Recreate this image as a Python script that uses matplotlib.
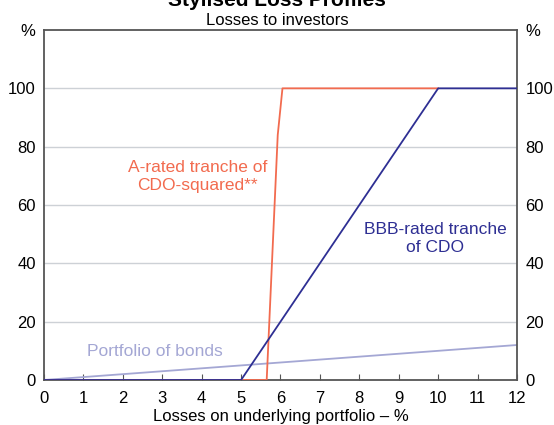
import matplotlib

matplotlib.use("Agg")

import matplotlib.pyplot as plt

plt.rcParams["font.family"] = ["Liberation Sans", "DejaVu Sans"]

# data (losses on underlying portfolio, %)
bonds_x = [0, 12]
bonds_y = [0, 12]

bbb_x = [0, 5, 10, 12]
bbb_y = [0, 0, 100, 100]

cdo2_x = [0, 5.65, 5.93, 6.05, 10]
cdo2_y = [0, 0, 84, 100, 100]

y_ticks = [0, 20, 40, 60, 80, 100, 120]
y_labels = ["0", "20", "40", "60", "80", "100", "%"]
x_ticks = list(range(0, 13))

RED = "#F26B4F"
NAVY = "#2E2F93"
LILAC = "#A4A7D4"
GRID = "#CDD1D6"
SPINE = "#555555"

fig = plt.figure(figsize=(5.54, 4.25), dpi=100)
ax = fig.add_axes([0.0794, 0.1059, 0.8538, 0.8235])

for y in y_ticks[1:-1]:
    ax.axhline(y, color=GRID, lw=1.0, zorder=0)

ax.plot(bonds_x, bonds_y, color=LILAC, lw=1.3, zorder=2)
ax.plot(cdo2_x, cdo2_y, color=RED, lw=1.3, zorder=3)
ax.plot(bbb_x, bbb_y, color=NAVY, lw=1.3, zorder=4)

ax.text(3.9, 69.8, "A-rated tranche of\nCDO-squared**", color=RED,
        fontsize=12.5, ha="center", va="center", linespacing=1.2)
ax.text(9.92, 48.5, "BBB-rated tranche\nof CDO", color=NAVY,
        fontsize=12.5, ha="center", va="center", linespacing=1.2)
ax.text(1.1, 9.6, "Portfolio of bonds", color=LILAC,
        fontsize=12.5, ha="left", va="center")

ax.set_xlim(0, 12)
ax.set_ylim(0, 120)
ax.set_xticks(x_ticks)
ax.set_yticks(y_ticks)
ax.set_yticklabels(y_labels)

ax.tick_params(axis="x", direction="in", length=4, width=0.8, color=SPINE,
               labelsize=12, pad=8)
ax.tick_params(axis="y", length=0, labelsize=12, pad=6,
               labelleft=True, labelright=True)

for side in ["left", "right", "top", "bottom"]:
    ax.spines[side].set_color(SPINE)
    ax.spines[side].set_linewidth(1.3)

ax.set_xlabel("Losses on underlying portfolio – %", fontsize=12, labelpad=2)

fig.text(0.5, 1.0, "Stylised Loss Profiles", fontsize=15, fontweight="bold",
         ha="center", va="center")
fig.text(0.5, 0.951, "Losses to investors", fontsize=12,
         ha="center", va="center")

fig.savefig("out.png", dpi=100)
